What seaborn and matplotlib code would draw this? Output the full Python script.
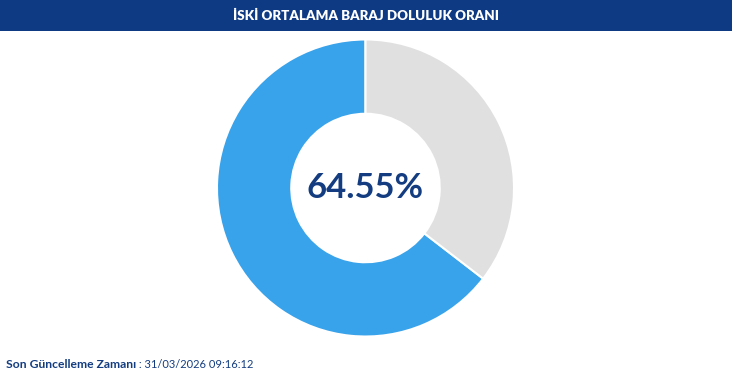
import matplotlib
matplotlib.use("Agg")
import matplotlib.pyplot as plt
import seaborn as sns
from matplotlib.patches import Rectangle

sns.set_theme(style="white")
plt.rcParams['font.family'] = ['Lato', 'DejaVu Sans']

# Data
labels = ["Dolu", "Boş"]
values = [64.55, 35.45]
colors = ["#38a2ea", "#e0e0e0"]
title = "İSKİ ORTALAMA BARAJ DOLULUK ORANI"
center_label = "64.55%"
footer_bold = "Son Güncelleme Zamanı"
footer_regular = " : 31/03/2026 09:16:12"

W, H = 732, 378
fig = plt.figure(figsize=(W / 100, H / 100), dpi=100)
fig.patch.set_facecolor("white")

# Header bar
fig.patches.append(Rectangle((0, 1 - 31 / H), 1, 31 / H, transform=fig.transFigure,
                             facecolor="#0e3a84", edgecolor="none", zorder=0))
fig.text(0.5, 1 - 16 / H, title, color="white", fontsize=9.6, fontweight="heavy",
         ha="center", va="center")

# Donut
cx, cy, r = 365.5, 188, 150
ax = fig.add_axes([(cx - r) / W, 1 - (cy + r) / H, 2 * r / W, 2 * r / H])
ax.pie(values, colors=colors, startangle=90, counterclock=True, radius=1,
       wedgeprops=dict(width=0.5, edgecolor="white", linewidth=1.5))
ax.set_xlim(-1.01, 1.01)
ax.set_ylim(-1.01, 1.01)
ax.set_aspect("equal")
ax.axis("off")
ax.text(0, 0, center_label, ha="center", va="center", fontsize=25,
        fontweight="bold", color="#133d80")

# Footer
t1 = fig.text(6 / W, 1 - 364 / H, footer_bold, fontsize=8.7, fontweight="bold",
              color="#133d80", ha="left", va="center")
ax2 = fig.add_axes([0, 0, 1, 1], frameon=False)
ax2.axis("off")
ax2.annotate(footer_regular, xy=(1, 0), xycoords=t1, xytext=(0, 0),
             textcoords="offset points", fontsize=8, color="#133d80",
             ha="left", va="bottom")

fig.savefig("out.png", dpi=100)
